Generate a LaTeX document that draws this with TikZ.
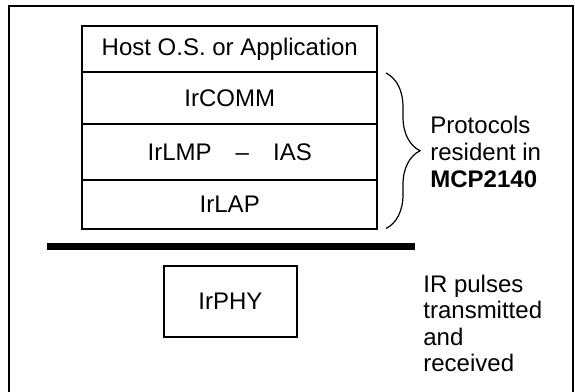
\documentclass[tikz,border=0pt]{standalone}
\usepackage{fontspec}
\setmainfont{Liberation Sans}
\usetikzlibrary{decorations.pathreplacing}
\begin{document}
\begin{tikzpicture}[x=0.5pt,y=-0.5pt,
    layer/.style={draw,line width=1pt,minimum width=147.75pt,inner sep=0pt,
      font=\fontsize{12}{13.3}\selectfont},
    note/.style={anchor=west,align=left,inner sep=0pt,
      font=\fontsize{12}{13.3}\selectfont}]
      \useasboundingbox (0,0) rectangle (575,392);
      \draw[line width=1pt] (9,392) |- (573,6) -- (573,392);
      \draw
        (229.75,49) node[layer,minimum height=23.3pt] (host){Host O.S. or Application}
        (229.75,98.15) node[layer,minimum height=25.85pt] (comm){IrCOMM}
        (229.75,152) node[layer,minimum height=28pt] (lmp){IrLMP\hspace{12pt}–\hspace{12pt}IAS}
        (229.75,204.25) node[layer,minimum height=24.25pt] (lap){IrLAP}
        (230.4,301.5) node[layer,minimum width=66.35pt,minimum height=35.8pt] (phy){IrPHY};
      \draw
        (430,152) node[note] (resident){Protocols\\resident in\\\textbf{MCP2140}}
        (423,323.5) node[note] (pulses){IR pulses\\transmitted\\and\\received};
      \coordinate (bt) at (386,73);
      \coordinate (bb) at (386,228.5);
      \coordinate (bl) at (47,246.7);
      \coordinate (br) at (415,246.7);
      \begin{scope}[line width=0.6pt]
        \draw[decorate,decoration={brace,amplitude=17pt}] (bt) -- (bb);
        \draw[line width=3.5pt] (bl) -- (br);
      \end{scope}
    \end{tikzpicture}
\end{document}
